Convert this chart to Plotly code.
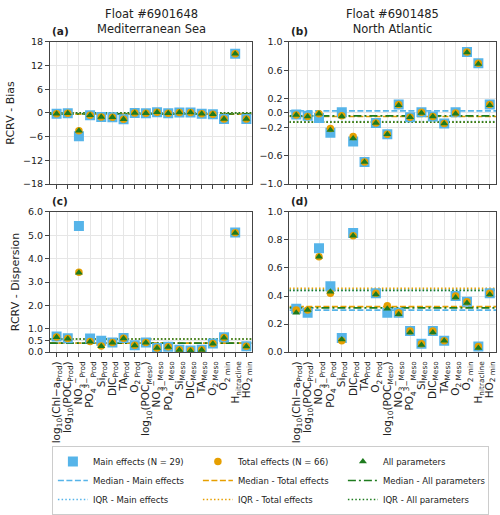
import plotly.graph_objects as go

# ---------------- data ----------------
labels = [
    "log<sub>10</sub>(Chl−a<sub>Prod</sub>)",
    "log<sub>10</sub>(POC<sub>Prod</sub>)",
    "NO<sub>3</sub><sup>−</sup><sub>Prod</sub>",
    "PO<sub>4</sub><sup>3−</sup><sub>Prod</sub>",
    "Si<sub>Prod</sub>",
    "DIC<sub>Prod</sub>",
    "TA<sub>Prod</sub>",
    "O<sub>2 Prod</sub>",
    "log<sub>10</sub>(POC<sub>Meso</sub>)",
    "NO<sub>3</sub><sup>−</sup><sub>Meso</sub>",
    "PO<sub>4</sub><sup>3−</sup><sub>Meso</sub>",
    "Si<sub>Meso</sub>",
    "DIC<sub>Meso</sub>",
    "TA<sub>Meso</sub>",
    "O<sub>2 Meso</sub>",
    "O<sub>2 min</sub>",
    "H<sub>nitracline</sub>",
    "HO<sub>2 min</sub>",
]

# (a) Mediterranean - bias
a_main  = [-0.2, -0.1, -5.9, -0.6, -1.0, -1.1, -1.6, 0.0, -0.1, 0.2, -0.1, 0.1, 0.1, -0.2, -0.3, -1.5, 15.0, -1.5]
a_total = [-0.2, -0.1, -4.5, -0.6, -1.0, -1.1, -1.6, 0.0, -0.1, 0.2, -0.1, 0.1, 0.1, -0.2, -0.3, -1.5, 15.0, -1.5]
a_all   = [-0.2, -0.1, -4.5, -0.6, -1.0, -1.1, -1.6, 0.0, -0.1, 0.2, -0.1, 0.1, 0.1, -0.2, -0.3, -1.5, 15.0, -1.5]
a_median = [-0.2, -0.3, -0.25]
a_iqr    = [-0.05, 0.0, 0.0]

# (b) North Atlantic - bias
b_main  = [-0.02, -0.04, -0.07, -0.28, 0.01, -0.40, -0.69, -0.14, -0.30, 0.12, -0.06, 0.01, -0.05, -0.15, 0.01, 0.86, 0.70, 0.12]
b_total = [-0.03, -0.05, -0.01, -0.22, -0.04, -0.33, -0.69, -0.14, -0.30, 0.12, -0.06, 0.01, -0.05, -0.15, 0.00, 0.86, 0.70, 0.12]
b_all   = [-0.03, -0.05, -0.01, -0.24, -0.05, -0.36, -0.69, -0.14, -0.30, 0.11, -0.06, 0.00, -0.05, -0.15, -0.01, 0.85, 0.69, 0.11]
b_median = [0.03, -0.05, -0.04]
b_iqr    = [-0.12, -0.13, -0.13]

# (c) Mediterranean - dispersion
c_main  = [0.67, 0.59, 5.40, 0.58, 0.48, 0.41, 0.60, 0.29, 0.41, 0.18, 0.23, 0.10, 0.07, 0.10, 0.37, 0.64, 5.12, 0.25]
c_total = [0.65, 0.58, 3.42, 0.45, 0.26, 0.41, 0.59, 0.29, 0.41, 0.18, 0.23, 0.10, 0.07, 0.10, 0.37, 0.62, 5.11, 0.25]
c_all   = [0.63, 0.57, 3.40, 0.44, 0.25, 0.40, 0.58, 0.28, 0.40, 0.17, 0.22, 0.09, 0.06, 0.09, 0.36, 0.61, 5.10, 0.24]
c_median = [0.38, 0.38, 0.38]
c_iqr    = [0.56, 0.56, 0.56]

# (d) North Atlantic - dispersion (TA_Prod not shown in the reference)
d_main  = [0.31, 0.28, 0.74, 0.47, 0.10, 0.85, None, 0.42, 0.28, 0.28, 0.15, 0.06, 0.15, 0.08, 0.40, 0.36, 0.04, 0.42]
d_total = [0.30, 0.30, 0.68, 0.42, 0.08, 0.83, None, 0.42, 0.33, 0.28, 0.15, 0.06, 0.15, 0.08, 0.40, 0.36, 0.04, 0.42]
d_all   = [0.28, 0.30, 0.68, 0.43, 0.09, 0.83, None, 0.41, 0.31, 0.27, 0.14, 0.05, 0.14, 0.08, 0.39, 0.35, 0.03, 0.41]
d_median = [0.30, 0.325, 0.315]
d_iqr    = [0.44, 0.455, 0.44]

series_names = ["Main effects (N = 29)", "Total effects (N = 66)", "All parameters"]
median_names = ["Median - Main effects", "Median - Total effects", "Median - All parameters"]
iqr_names = ["IQR - Main effects", "IQR - Total effects", "IQR - All parameters"]

# ---------------- style ----------------
FONT = "DejaVu Sans"
C_BLUE, C_ORANGE, C_GREEN = "#56B4E9", "#E69F00", "#1E7B1E"
colors = [C_BLUE, C_ORANGE, C_GREEN]
symbols = ["square", "circle", "triangle-up"]
msizes = [10, 7.5, 7]
median_dash = ["6px,2.5px", "6px,2.5px", "8px,3px,2px,3px"]
iqr_dash = "1.5px,2.2px"
XR = [-0.6, 17.55]
W, H = 500, 515

panels = [
    dict(ax="", vals=[a_main, a_total, a_all], med=a_median, iqr=a_iqr,
         yr=[-18, 18], yt=[-18, -12, -6, 0, 6, 12, 18], fmt="d"),
    dict(ax="2", vals=[b_main, b_total, b_all], med=b_median, iqr=b_iqr,
         yr=[-1, 1], yt=[-1.0, -0.6, -0.2, 0.0, 0.2, 0.6, 1.0], fmt=".1f"),
    dict(ax="3", vals=[c_main, c_total, c_all], med=c_median, iqr=c_iqr,
         yr=[0, 6], yt=[0.0, 0.5, 1.0, 2.0, 3.0, 4.0, 5.0, 6.0], fmt=".1f"),
    dict(ax="4", vals=[d_main, d_total, d_all], med=d_median, iqr=d_iqr,
         yr=[0, 1], yt=[0.0, 0.2, 0.4, 0.6, 0.8, 1.0], fmt=".1f"),
]

fig = go.Figure()
xs = list(range(len(labels)))

for pi, p in enumerate(panels):
    xa, ya = "x" + p["ax"], "y" + p["ax"]
    first = pi == 0
    for k in range(3):
        fig.add_trace(go.Scatter(
            x=XR, y=[p["med"][k]] * 2, mode="lines", xaxis=xa, yaxis=ya,
            line=dict(color=colors[k], width=1.7, dash=median_dash[k]),
            name=median_names[k], legendgroup=median_names[k],
            showlegend=first, legendrank=4 + k, hoverinfo="skip"))
    for k in range(3):
        fig.add_trace(go.Scatter(
            x=XR, y=[p["iqr"][k]] * 2, mode="lines", xaxis=xa, yaxis=ya,
            line=dict(color=colors[k], width=1.7, dash=iqr_dash),
            name=iqr_names[k], legendgroup=iqr_names[k],
            showlegend=first, legendrank=7 + k, hoverinfo="skip"))
    for k in range(3):
        fig.add_trace(go.Scatter(
            x=xs, y=p["vals"][k], mode="markers", xaxis=xa, yaxis=ya,
            marker=dict(symbol=symbols[k], size=msizes[k], color=colors[k],
                        line=dict(width=0)),
            name=series_names[k], legendgroup=series_names[k],
            showlegend=first, legendrank=1 + k))

xdom_left = [50 / W, 253 / W]
xdom_right = [290 / W, 497 / W]
ydom_top = [1 - 186.7 / H, 1 - 37.7 / H]
ydom_bot = [1 - 363 / H, 1 - 216 / H]
doms = [(xdom_left, ydom_top), (xdom_right, ydom_top),
        (xdom_left, ydom_bot), (xdom_right, ydom_bot)]

axis_common = dict(showline=True, mirror=True, linecolor="#444", linewidth=1,
                   showgrid=True, gridcolor="#E6E6E6", gridwidth=1,
                   ticks="outside", ticklen=4, tickcolor="#444", zeroline=False,
                   tickfont=dict(family=FONT, size=9.5, color="#222"))

layout = {}
for pi, p in enumerate(panels):
    xd, yd = doms[pi]
    bottom = pi >= 2
    xax = dict(axis_common, domain=xd, range=XR, anchor="y" + p["ax"],
               tickmode="array", tickvals=xs, tickangle=-90,
               showticklabels=bottom)
    if bottom:
        xax["ticktext"] = labels
        xax["tickfont"] = dict(family=FONT, size=10.5, color="#222")
    layout["xaxis" + p["ax"]] = xax
    ytitle = {0: "RCRV - Bias", 2: "RCRV - Dispersion"}.get(pi)
    yax = dict(axis_common, domain=yd, range=p["yr"], anchor="x" + p["ax"],
               tickmode="array", tickvals=p["yt"], tickformat=p["fmt"])
    if ytitle:
        yax["title"] = dict(text=ytitle, font=dict(family=FONT, size=11, color="#222"),
                            standoff=6)
    layout["yaxis" + p["ax"]] = yax

annotations = []
for pi, lab in enumerate(["(a)", "(b)", "(c)", "(d)"]):
    xd, yd = doms[pi]
    annotations.append(dict(text="<b>" + lab + "</b>", x=xd[0], y=yd[1], xref="paper",
                            yref="paper", xanchor="left", yanchor="bottom", yshift=3,
                            showarrow=False, font=dict(family=FONT, size=10.5, color="#222")))
titles = ["Float #6901648<br>Mediterranean Sea", "Float #6901485<br>North Atlantic"]
for i, t in enumerate(titles):
    xd = doms[i][0]
    annotations.append(dict(text=t, x=(xd[0] + xd[1]) / 2, y=1 - 16 / H, xref="paper",
                            yref="paper", xanchor="center", yanchor="middle",
                            showarrow=False, font=dict(family=FONT, size=11.5, color="#222")))

fig.update_layout(
    width=W, height=H,
    margin=dict(l=0, r=0, t=0, b=0),
    paper_bgcolor="white", plot_bgcolor="white",
    font=dict(family=FONT, color="#222"),
    annotations=annotations,
    legend=dict(orientation="h", x=52 / W, y=1 - 462 / H, xanchor="left", yanchor="top",
                entrywidth=100, entrywidthmode="pixels", itemwidth=30,
                font=dict(family=FONT, size=8.5), bordercolor="#CCCCCC", borderwidth=1,
                bgcolor="white", tracegroupgap=0, traceorder="normal"),
    **layout,
)

fig.write_html("out.html")
